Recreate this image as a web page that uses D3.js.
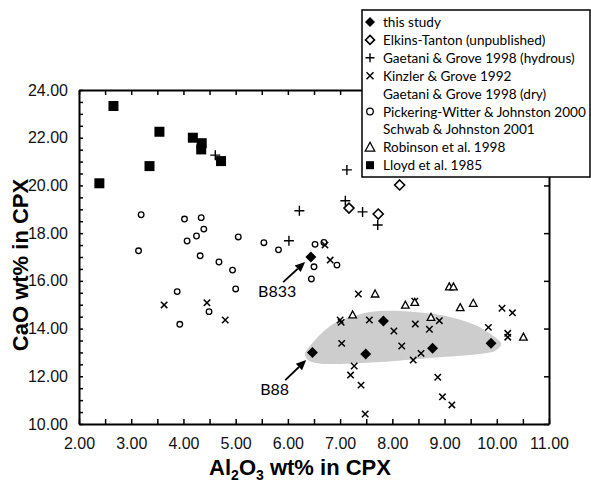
<!DOCTYPE html>
<html><head><meta charset="utf-8">
<script src="https://cdn.jsdelivr.net/npm/d3@7"></script>
<style>body{margin:0;background:#fff}svg{display:block}</style>
</head><body>
<svg id="c" width="591" height="484"></svg>
<script>
// ---- data ----
const thisStudy = [[6.44,17.0],[6.47,13.0],[7.49,12.93],[7.83,14.32],[8.77,13.17],[9.89,13.38]];
const elkinsTanton = [[7.17,19.05],[7.73,18.80],[8.14,20.02]];
const gaetaniHydrous = [[4.61,21.27],[7.13,20.65],[7.10,19.36],[7.43,18.89],[7.72,18.34],[6.22,18.94],[6.02,17.68]];
const kinzlerGrove = [[3.63,14.99],[4.45,15.08],[4.80,14.36],[6.71,17.50],[6.81,16.87],[7.35,15.45],[8.43,15.15],[10.10,14.85],[10.30,14.66],[9.84,14.05],[10.21,13.80],[10.21,13.64],[7.0,14.36],[7.02,14.26],[7.56,14.36],[8.03,13.9],[8.44,14.19],[8.71,13.97],[8.90,14.33],[7.03,13.38],[8.18,13.27],[8.55,12.96],[8.40,12.68],[7.27,12.43],[7.20,12.05],[7.40,11.63],[8.87,11.96],[8.96,11.14],[9.14,10.80],[7.48,10.42]];
const pickeringWitter = [[3.19,18.77],[4.02,18.59],[4.34,18.65],[4.39,18.17],[4.25,17.88],[4.07,17.67],[5.05,17.84],[3.14,17.26],[4.32,17.05],[4.68,16.79],[4.94,16.45],[5.54,17.60],[5.82,17.30],[5.0,15.66],[3.88,15.55],[4.49,14.71],[3.93,14.18],[6.52,17.53],[6.69,17.61],[6.50,16.59],[6.94,16.66],[6.45,16.08]];
const robinson = [[7.67,15.45],[7.24,14.57],[8.25,14.98],[8.43,15.1],[9.09,15.75],[9.17,15.75],[9.30,14.88],[9.55,15.06],[8.74,14.47],[10.51,13.64]];
const lloyd = [[2.66,23.33],[3.54,22.25],[3.35,20.81],[2.39,20.09],[4.18,22.0],[4.35,21.77],[4.34,21.51],[4.72,21.02]];
const shadedField = [[6.33,12.95],[6.52,13.52],[6.90,14.23],[7.57,14.69],[8.15,14.74],[8.92,14.57],[9.59,14.15],[10.07,13.44],[9.95,13.05],[9.49,12.89],[8.72,12.77],[7.77,12.60],[6.81,12.51],[6.43,12.62]];
const annotations = [
  {label:"B833", text:[5.43,15.32], from:[5.91,15.95], to:[6.33,16.79]},
  {label:"B88",  text:[5.47,11.22], from:[5.95,11.84], to:[6.35,12.68]}
];
const legendLabels = ["this study","Elkins-Tanton (unpublished)","Gaetani & Grove 1998 (hydrous)","Kinzler & Grove 1992","Gaetani & Grove 1998 (dry)","Pickering-Witter & Johnston 2000","Schwab & Johnston 2001","Robinson et al. 1998","Lloyd et al. 1985"];
const legendSymbols = ["fdiamond","odiamond","plus","cross",null,"circle",null,"triangle","square"];
const xDomain = [2,11], yDomain = [10,24];
const xLabels = d3.range(2,11.01,1), yLabels = d3.range(10,24.01,2);

// ---- setup ----
const svg = d3.select("#c");
const L=79, R=549, T=90, B=424;
const x = d3.scaleLinear().domain(xDomain).range([L,R]);
const y = d3.scaleLinear().domain(yDomain).range([B,T]);
const tickFont = "'Liberation Sans Narrow','Liberation Sans',Arial,sans-serif";
const textFont = "Lato,'Open Sans','Noto Sans',sans-serif";

// shaded field
svg.append("path")
  .attr("d", d3.line().x(d=>x(d[0])).y(d=>y(d[1])).curve(d3.curveCardinalClosed.tension(0.2))(shadedField))
  .attr("fill","#cdcdcd");

// axes
const f2 = d3.format(".2f");
function lab(vals){return d=>vals.some(v=>Math.abs(v-d)<1e-6)?f2(d):"";}
const ax = [
  svg.append("g").attr("transform",`translate(0,${B})`).call(d3.axisBottom(x).tickValues(d3.range(2,11.01,0.5)).tickSizeInner(-5).tickSizeOuter(0).tickPadding(14).tickFormat(lab(xLabels))),
  svg.append("g").attr("transform",`translate(0,${T})`).call(d3.axisTop(x).tickValues(d3.range(2,11.01,0.5)).tickSizeInner(-5).tickSizeOuter(0).tickFormat("")),
  svg.append("g").attr("transform",`translate(${L},0)`).call(d3.axisLeft(y).tickValues(d3.range(10,24.01,0.5)).tickSizeInner(-4).tickSizeOuter(0).tickPadding(11).tickFormat(lab(yLabels))),
  svg.append("g").attr("transform",`translate(${R},0)`).call(d3.axisRight(y).tickValues(yLabels).tickSizeInner(-5).tickSizeOuter(0).tickFormat(""))
];
ax.forEach(g=>{
  g.select(".domain").attr("stroke","#000").attr("stroke-width",2);
  g.selectAll(".tick line").attr("stroke","#000").attr("stroke-width",1.5);
  g.selectAll(".tick text").attr("font-family",tickFont).attr("font-size",16).attr("fill","#111");
});

// axis titles
const xt = svg.append("text").attr("x",(L+R)/2-14).attr("y",475).attr("text-anchor","middle")
  .attr("font-family","'Liberation Sans',Arial,sans-serif").attr("font-weight","bold").attr("font-size",22);
xt.append("tspan").text("Al");
xt.append("tspan").text("2").attr("font-size",14).attr("dy",5);
xt.append("tspan").text("O").attr("dy",-5);
xt.append("tspan").text("3").attr("font-size",14).attr("dy",5);
xt.append("tspan").text(" wt% in CPX").attr("dy",-5);
svg.append("text").attr("transform","translate(28,265) rotate(-90)").attr("text-anchor","middle")
  .attr("font-family","'Liberation Sans',Arial,sans-serif").attr("font-weight","bold").attr("font-size",22)
  .text("CaO wt% in CPX");

// symbol drawing
function sym(g, type, px, py, s){
  if(type==="fdiamond"){g.append("path").attr("d",`M${px},${py-s}L${px+s},${py}L${px},${py+s}L${px-s},${py}Z`).attr("fill","#000");}
  else if(type==="odiamond"){g.append("path").attr("d",`M${px},${py-s}L${px+s},${py}L${px},${py+s}L${px-s},${py}Z`).attr("fill","#fff").attr("stroke","#000").attr("stroke-width",1.6);}
  else if(type==="plus"){g.append("path").attr("d",`M${px-s},${py}H${px+s}M${px},${py-s}V${py+s}`).attr("stroke","#000").attr("stroke-width",1.4).attr("fill","none");}
  else if(type==="cross"){g.append("path").attr("d",`M${px-s},${py-s}L${px+s},${py+s}M${px+s},${py-s}L${px-s},${py+s}`).attr("stroke","#000").attr("stroke-width",1.5).attr("fill","none");}
  else if(type==="circle"){g.append("circle").attr("cx",px).attr("cy",py).attr("r",s).attr("fill","#fff").attr("stroke","#000").attr("stroke-width",1.3);}
  else if(type==="triangle"){g.append("path").attr("d",`M${px},${py-s}L${px+s*0.95},${py+s*0.75}L${px-s*0.95},${py+s*0.75}Z`).attr("fill","#fff").attr("stroke","#000").attr("stroke-width",1.3);}
  else if(type==="square"){g.append("rect").attr("x",px-s).attr("y",py-s).attr("width",2*s).attr("height",2*s).attr("fill","#000");}
}
const pts = svg.append("g");
const series = [
  [pickeringWitter,"circle",2.8],
  [kinzlerGrove,"cross",3.2],
  [robinson,"triangle",4],
  [gaetaniHydrous,"plus",5],
  [elkinsTanton,"odiamond",5],
  [lloyd,"square",5],
  [thisStudy,"fdiamond",5.5]
];
series.forEach(([data,type,s])=>data.forEach(d=>sym(pts,type,x(d[0]),y(d[1]),s)));

// annotations
annotations.forEach(a=>{
  const x1=x(a.from[0]),y1=y(a.from[1]),x2=x(a.to[0]),y2=y(a.to[1]);
  const ang=Math.atan2(y2-y1,x2-x1), hl=10, hw=4.5;
  const bx=x2-hl*Math.cos(ang), by=y2-hl*Math.sin(ang);
  svg.append("line").attr("x1",x1).attr("y1",y1).attr("x2",bx).attr("y2",by).attr("stroke","#000").attr("stroke-width",1.8);
  svg.append("path").attr("d",`M${x2},${y2}L${bx+hw*Math.sin(ang)},${by-hw*Math.cos(ang)}L${bx-hw*Math.sin(ang)},${by+hw*Math.cos(ang)}Z`).attr("fill","#000");
  svg.append("text").attr("x",x(a.text[0])).attr("y",y(a.text[1])).attr("font-family",textFont).attr("font-size",16).text(a.label);
});

// legend
const lg = svg.append("g");
lg.append("rect").attr("x",362).attr("y",10).attr("width",228).attr("height",167).attr("fill","#fff").attr("stroke","#000").attr("stroke-width",1.5);
const lsize = {fdiamond:5,odiamond:4.5,plus:4.5,cross:3.5,circle:3.3,triangle:5,square:4};
let lfs = 15;
const texts = legendLabels.map((t,i)=>{
  const cy = 22 + i*17.9;
  if(legendSymbols[i]) sym(lg,legendSymbols[i],370,cy,lsize[legendSymbols[i]]);
  return lg.append("text").attr("x",383).attr("y",cy+5).attr("font-family",textFont).attr("font-size",lfs).text(t);
});
// shrink legend font so the longest entry fits the box
const maxW = d3.max(texts, t=>t.node().getComputedTextLength());
if(maxW > 203){ lfs = lfs*203/maxW; texts.forEach(t=>t.attr("font-size",lfs)); }
</script>
</body></html>
